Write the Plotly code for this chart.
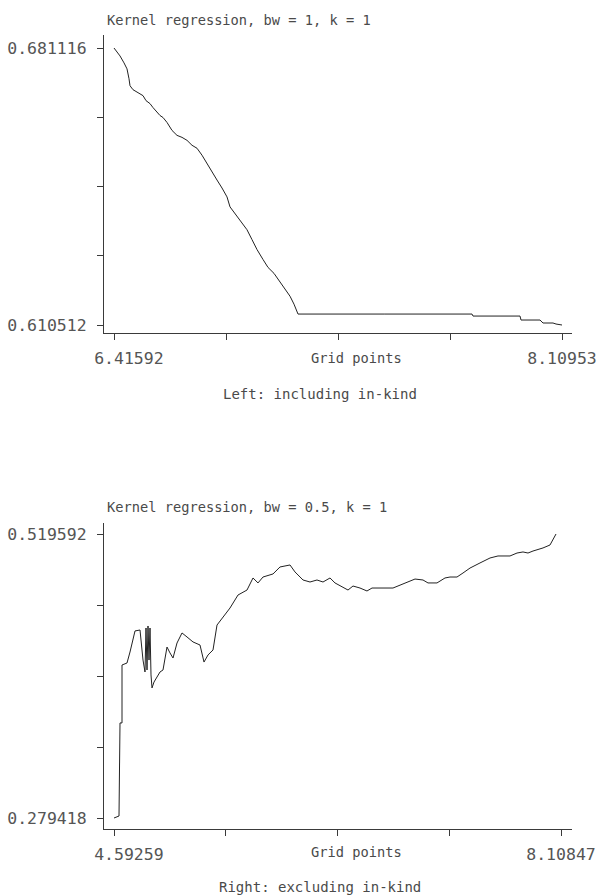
import plotly.graph_objects as go

# ---- Top panel: Kernel regression, bw = 1, k = 1 (Left: including in-kind)
top_x = [6.41592, 6.43860, 6.45372, 6.46507, 6.47263, 6.47641, 6.48775, 6.50665, 6.52555,
         6.53689, 6.55201, 6.56336, 6.57848, 6.58982, 6.60116, 6.61628, 6.63518, 6.65409,
         6.67299, 6.69189, 6.71079, 6.72969, 6.74860, 6.76372, 6.77884, 6.80530, 6.82420,
         6.84311, 6.85445, 6.87713, 6.89603, 6.91861, 6.93762, 6.95652, 6.97920, 6.99810,
         7.02079, 7.04347, 7.06237, 7.08127, 7.09640, 7.11152, 7.44000, 7.76930, 7.77308,
         7.95076, 7.95454, 8.02637, 8.03771, 8.07551, 8.08686, 8.10953]
top_y = [0.681116, 0.67909, 0.67732, 0.67580, 0.67327, 0.67150, 0.67049, 0.66973, 0.66897,
         0.66770, 0.66694, 0.66593, 0.66467, 0.66391, 0.66340, 0.66214, 0.66011, 0.65885,
         0.65834, 0.65758, 0.65632, 0.65556, 0.65379, 0.65201, 0.65050, 0.64746, 0.64543,
         0.64316, 0.64062, 0.63860, 0.63683, 0.63480, 0.63227, 0.62974, 0.62721, 0.62519,
         0.62367, 0.62139, 0.61962, 0.61785, 0.61582, 0.61330, 0.61330, 0.61330, 0.61279,
         0.61279, 0.61178, 0.61178, 0.61102, 0.61102, 0.61076, 0.610512]

# ---- Bottom panel: Kernel regression, bw = 0.5, k = 1 (Right: excluding in-kind)
bot_x = [4.5926, 4.6319, 4.6398, 4.6555, 4.6555, 4.6948, 4.7184, 4.7578, 4.7971, 4.8207,
         4.8364, 4.8443, 4.8522, 4.8600, 4.8679, 4.8758, 4.8836, 4.8915, 4.9072, 4.9308,
         4.9544, 4.9780, 5.0095, 5.0331, 5.0567, 5.0881, 5.1275, 5.1668, 5.2140, 5.2690,
         5.3005, 5.3320, 5.3713, 5.4027, 5.4499, 5.5050, 5.5679, 5.6387, 5.6859, 5.7252,
         5.7645, 5.8432, 5.8983, 5.9769, 6.0162, 6.0792, 6.1342, 6.1893, 6.2365, 6.2915,
         6.3308, 6.3859, 6.4331, 6.4724, 6.5275, 6.5825, 6.6219, 6.7870, 6.8421, 6.8972,
         6.9601, 7.0230, 7.0623, 7.1331, 7.1960, 7.2353, 7.2904, 7.3376, 7.3927, 7.4713,
         7.5500, 7.6129, 7.7073, 7.7624, 7.8096, 7.8489, 7.8882, 7.9669, 8.0220, 8.0692]
bot_y = [0.279418, 0.2811, 0.3598, 0.3598, 0.4088, 0.4105, 0.4198, 0.4376, 0.4384, 0.4130,
         0.4029, 0.4401, 0.4046, 0.4418, 0.4130, 0.4401, 0.4004, 0.3894, 0.3944, 0.3987,
         0.4029, 0.4046, 0.4240, 0.4190, 0.4147, 0.4274, 0.4359, 0.4325, 0.4283, 0.4257,
         0.4113, 0.4173, 0.4215, 0.4426, 0.4494, 0.4570, 0.4680, 0.4722, 0.4824, 0.4782,
         0.4832, 0.4858, 0.4917, 0.4934, 0.4875, 0.4807, 0.4790, 0.4807, 0.4790, 0.4824,
         0.4782, 0.4748, 0.4722, 0.4756, 0.4739, 0.4714, 0.4739, 0.4739, 0.4765, 0.4790,
         0.4815, 0.4807, 0.4782, 0.4782, 0.4824, 0.4832, 0.4832, 0.4866, 0.4908, 0.4951,
         0.4993, 0.5010, 0.5010, 0.5035, 0.5044, 0.5035, 0.5052, 0.5078, 0.5103, 0.519592]

NB = "\u00a0\u00a0\u00a0"  # the first x label sits a little right of its tick
top_xlabels = [NB + "6.41592", "", "", "", "8.10953"]
top_ylabels = ["0.681116", "", "", "", "0.610512"]
bot_xlabels = [NB + "4.59259", "", "", "", "8.10847"]
bot_ylabels = ["0.519592", "", "", "", "0.279418"]
top_xmin, top_xmax, top_ymax, top_ymin = 6.41592, 8.10953, 0.681116, 0.610512
bot_xmin, bot_xmax, bot_ymax, bot_ymin = 4.59259, 8.10847, 0.519592, 0.279418

titles = ["Kernel regression, bw = 1, k = 1", "Kernel regression, bw = 0.5, k = 1"]
captions = ["Left: including in-kind", "Right: excluding in-kind"]
xtitle = "Grid points"

W, H = 599, 896
INK = "#3a3a3a"
LINE = "#222222"
NUMFONT = dict(family="DejaVu Sans Mono", size=16.5, color="#555555")
TXTFONT = dict(family="DejaVu Sans Mono", size=13.7, color="#4a4a4a")
CAPFONT = dict(family="DejaVu Sans Mono", size=14, color="#4a4a4a")


def lin5(a, b):
    return [a + (b - a) * i / 4 for i in range(5)]


def px_dom_x(l, r):
    return [l / W, r / W]


def px_dom_y(t, b):
    return [1 - b / H, 1 - t / H]


fig = go.Figure()
fig.add_trace(go.Scatter(x=top_x, y=top_y, mode="lines", line=dict(color=LINE, width=1),
                         xaxis="x", yaxis="y", showlegend=False, hoverinfo="skip"))
fig.add_trace(go.Scatter(x=bot_x, y=bot_y, mode="lines", line=dict(color=LINE, width=1),
                         xaxis="x2", yaxis="y2", showlegend=False, hoverinfo="skip"))

axcommon = dict(showline=True, linecolor=INK, linewidth=1, ticks="outside", ticklen=6,
                tickcolor=INK, tickwidth=1, showgrid=False, zeroline=False, fixedrange=True,
                tickfont=NUMFONT, automargin=False)

# top panel pixel geometry
tx_span = (top_xmax - top_xmin) / (562 - 114)
ty_span = (top_ymax - top_ymin) / (325 - 48)
fig.update_layout(
    xaxis=dict(axcommon, domain=px_dom_x(104, 572), anchor="y",
               range=[top_xmin - 10 * tx_span, top_xmax + 10 * tx_span],
               tickmode="array", tickvals=lin5(top_xmin, top_xmax), ticktext=top_xlabels,
               ticklabelstandoff=4),
    yaxis=dict(axcommon, domain=px_dom_y(35, 333), anchor="x",
               range=[top_ymin - 8 * ty_span, top_ymax + 13 * ty_span],
               tickmode="array", tickvals=lin5(top_ymax, top_ymin), ticktext=top_ylabels,
               ticklabelstandoff=7),
)

bx_span = (bot_xmax - bot_xmin) / (561 - 114)
by_span = (bot_ymax - bot_ymin) / (818 - 534)
fig.update_layout(
    xaxis2=dict(axcommon, domain=px_dom_x(104, 572), anchor="y2",
                range=[bot_xmin - 10 * bx_span, bot_xmax + 11 * bx_span],
                tickmode="array", tickvals=lin5(bot_xmin, bot_xmax), ticktext=bot_xlabels,
                ticklabelstandoff=4),
    yaxis2=dict(axcommon, domain=px_dom_y(523, 829), anchor="x2",
                range=[bot_ymin - 11 * by_span, bot_ymax + 11 * by_span],
                tickmode="array", tickvals=lin5(bot_ymax, bot_ymin), ticktext=bot_ylabels,
                ticklabelstandoff=7),
)

ann = []
# titles
for t, ypx in zip(titles, [20, 507]):
    ann.append(dict(text=t, x=105 / W, y=1 - ypx / H, xref="paper", yref="paper",
                    xanchor="left", yanchor="middle", showarrow=False, font=TXTFONT))
# "Grid points" label on the x axes
for ypx in [358, 852]:
    ann.append(dict(text=xtitle, x=356 / W, y=1 - ypx / H, xref="paper", yref="paper",
                    xanchor="center", yanchor="middle", showarrow=False, font=TXTFONT))
# captions
for c, ypx in zip(captions, [394, 887]):
    ann.append(dict(text=c, x=320 / W, y=1 - ypx / H, xref="paper", yref="paper",
                    xanchor="center", yanchor="middle", showarrow=False, font=CAPFONT))

fig.update_layout(width=W, height=H, margin=dict(l=0, r=0, t=0, b=0),
                  paper_bgcolor="white", plot_bgcolor="white", annotations=ann)

fig.write_html("out.html")
